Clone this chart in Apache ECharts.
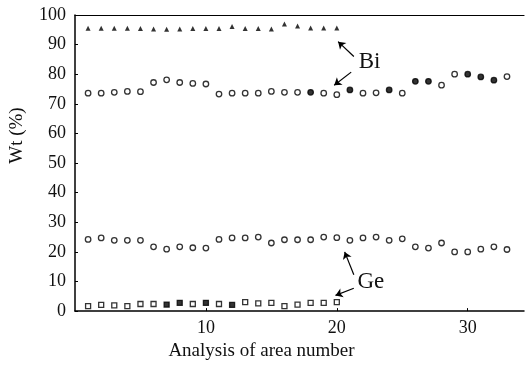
<!DOCTYPE html>
<html>
<head>
<meta charset="utf-8">
<script src="https://cdn.jsdelivr.net/npm/echarts@6/dist/echarts.min.js"></script>
<style>
html,body{margin:0;padding:0;background:#fff;}
#main{width:525px;height:366px;}
</style>
</head>
<body>
<div id="main"></div>
<script>
// area numbers
var areaNo = [1,2,3,4,5,6,7,8,9,10,11,12,13,14,15,16,17,18,19,20,21,22,23,24,25,26,27,28,29,30,31,32,33];
// Bi, triangles (areas 1-20)
var biTri = [95.5,95.5,95.5,95.5,95.4,95.3,95.2,95.3,95.4,95.4,95.4,96.1,95.4,95.4,95.3,97.0,96.3,95.6,95.6,95.6];
// Bi, circles
var biCirc = [73.6,73.6,73.9,74.2,74.1,77.2,78.1,77.2,76.9,76.7,73.3,73.6,73.6,73.6,74.2,73.9,73.9,73.9,73.6,73.1,74.7,73.6,73.7,74.7,73.6,77.6,77.6,76.3,80.0,80.0,79.1,78.0,79.2];
var biFilled = [18,21,24,26,27,30,31,32];
// Ge, circles
var geCirc = [24.2,24.7,23.9,23.9,23.9,21.7,20.9,21.7,21.4,21.3,24.2,24.7,24.7,25.0,23.0,24.1,24.1,24.1,25.0,24.8,23.9,24.7,25.0,23.9,24.4,21.7,21.3,23.0,20.0,20.0,20.9,21.7,20.8];
// Ge, squares (areas 1-20)
var geLow = [1.7,2.1,1.9,1.7,2.4,2.4,2.2,2.8,2.4,2.8,2.4,2.1,3.0,2.6,2.8,1.7,2.2,2.8,2.8,3.0];
var geFilled = [7,8,10,12];
var yTicks = [0,10,20,30,40,50,60,70,80,90,100];

var font = 'Liberation Serif';
var myChart = echarts.init(document.getElementById('main'));

function pts(vals, filled){
    var out = [];
    for(let i=0;i<vals.length;i++){
        var d = {value:[areaNo[i], vals[i]]};
        if(filled && filled.indexOf(areaNo[i]) >= 0){
            d.itemStyle = {color:'#000'};
        }
        out.push(d);
    }
    return out;
}

var hollow = {color:'#fff', borderColor:'#000', borderWidth:1.3};

var option = {
    animation: false,
    backgroundColor: '#fff',
    grid: {left:73, right:1, top:15, bottom:51},
    xAxis: [
        {
            type: 'value',
            min: 0, max: 34.3, interval: 10,
            name: 'Analysis of area number',
            nameLocation: 'middle',
            nameGap: 28,
            nameTextStyle: {fontFamily:font, fontSize:19, color:'#111', padding:[0,76,0,0]},
            axisLine: {lineStyle:{color:'#000', width:1.5}},
            axisTick: {show:true, inside:true, length:3, lineStyle:{color:'#000'}},
            axisLabel: {fontFamily:font, fontSize:18, color:'#111', margin:8, showMinLabel:false, showMaxLabel:false},
            splitLine: {show:false}
        },
        {
            type: 'value', position: 'top',
            min: 0, max: 34.3,
            axisLine: {onZero:false, lineStyle:{color:'#000', width:1.2}},
            axisTick: {show:false}, axisLabel: {show:false}, splitLine: {show:false}
        }
    ],
    yAxis: {
        type: 'value',
        min: 0, max: 100, interval: 10,
        name: 'Wt (%)',
        nameLocation: 'middle',
        nameGap: 48,
        nameTextStyle: {fontFamily:font, fontSize:19, color:'#111', padding:[0,0,0,55]},
        axisLine: {show:true, lineStyle:{color:'#000', width:1.5}},
        axisTick: {show:true, inside:true, length:3, lineStyle:{color:'#000'}},
        axisLabel: {fontFamily:font, fontSize:18, color:'#111', margin:9,
            formatter: function(v){ return yTicks.indexOf(v) >= 0 ? String(v) : ''; }},
        splitLine: {show:false}
    },
    series: [
        {
            type: 'scatter', symbol: 'triangle', symbolSize: 5,
            itemStyle: {color:'#000'},
            data: pts(biTri)
        },
        {
            type: 'scatter', symbol: 'circle', symbolSize: 5.5,
            itemStyle: hollow,
            data: pts(biCirc, biFilled),
            markLine: {
                silent: true,
                symbol: ['none','arrow'], symbolSize: 7,
                lineStyle: {color:'#000', width:1.2, type:'solid'},
                label: {show:false},
                data: [
                    [{coord:[21.3,86]},{coord:[20.1,91]}],
                    [{coord:[21.1,80.7]},{coord:[19.8,76.3]}],
                    [{coord:[21.3,12.3]},{coord:[20.6,20]}],
                    [{coord:[21.3,7.7]},{coord:[19.9,5.3]}]
                ]
            },
            markPoint: {
                silent: true,
                symbol: 'circle', symbolSize: 0,
                label: {show:true, formatter:'{b}', fontFamily:font, fontSize:23, color:'#111'},
                data: [
                    {name:'Bi', coord:[22.5,84]},
                    {name:'Ge', coord:[22.6,10]}
                ]
            }
        },
        {
            type: 'scatter', symbol: 'circle', symbolSize: 5.5,
            itemStyle: hollow,
            data: pts(geCirc)
        },
        {
            type: 'scatter', symbol: 'rect', symbolSize: 5,
            itemStyle: hollow,
            data: pts(geLow, geFilled)
        }
    ]
};
myChart.setOption(option);
</script>
</body>
</html>
